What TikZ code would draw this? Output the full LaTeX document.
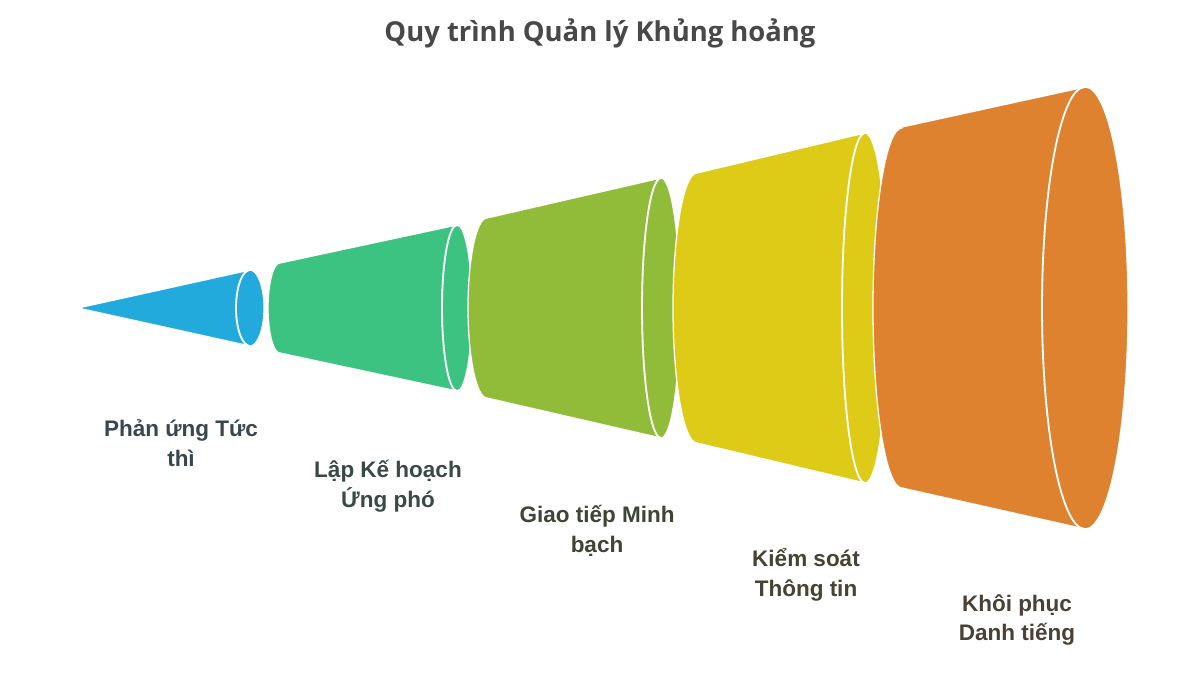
\documentclass[tikz,border=0pt]{standalone}
\usepackage{fontspec}
\usepackage{tikz}
\setmainfont{Liberation Sans}
\newfontfamily\titlefont{Open Sans}

\definecolor{cblue}{HTML}{22AADC}
\definecolor{cgreen}{HTML}{3DC381}
\definecolor{colive}{HTML}{91BC3A}
\definecolor{cyellow}{HTML}{DECB17}
\definecolor{corange}{HTML}{DE8230}
\definecolor{ttext}{HTML}{484848}
\definecolor{tblue}{HTML}{38474D}
\definecolor{tgreen}{HTML}{3A4946}
\definecolor{tolive}{HTML}{3F4536}
\definecolor{tyellow}{HTML}{454331}
\definecolor{torange}{HTML}{4A4037}

\tikzset{
  seg/.style={draw=white, line width=0.9pt, line join=round},
  rim/.style={draw=white, line width=1.3pt},
  lbl/.style={align=center, font=\bfseries\fontsize{16}{21.3}\selectfont}
}

\begin{document}
\begin{tikzpicture}[x=0.025cm, y=-0.025cm]
    \useasboundingbox (0, 0) rectangle (1200, 675);
    \node[font=\titlefont\bfseries\fontsize{19.5}{23}\selectfont, text=ttext] (title) at (600, 33) {Quy trình Quản lý Khủng hoảng};
    % cone
    \fill[seg, fill=cblue] (78, 308) -- (250, 270) arc[start angle=-90, end angle=90, x radius=14, y radius=38] -- cycle;
    \draw[rim] (250, 270) arc[start angle=-90, end angle=-270, x radius=14, y radius=38];
    % frustum 2
    \fill[seg, fill=cgreen] (280, 263) -- (457, 225) arc[start angle=-90, end angle=90, x radius=15, y radius=83]
      -- (280, 353) arc[start angle=90, end angle=270, x radius=12, y radius=45] -- cycle;
    \draw[rim] (457, 225) arc[start angle=-90, end angle=-270, x radius=15, y radius=83];
    % frustum 3
    \fill[seg, fill=colive] (487, 218) -- (661, 178) arc[start angle=-90, end angle=90, x radius=19, y radius=130]
      -- (487, 398) arc[start angle=90, end angle=270, x radius=19, y radius=90] -- cycle;
    \draw[rim] (661, 178) arc[start angle=-90, end angle=-270, x radius=19, y radius=130];
    % frustum 4
    \fill[seg, fill=cyellow] (697, 173) -- (865, 133) arc[start angle=-90, end angle=90, x radius=23, y radius=175]
      -- (697, 443) arc[start angle=90, end angle=270, x radius=24, y radius=135] -- cycle;
    \draw[rim] (865, 133) arc[start angle=-90, end angle=-270, x radius=23, y radius=175];
    % frustum 5
    \fill[seg, fill=corange] (902, 127) -- (1085, 87) arc[start angle=-90, end angle=90, x radius=43, y radius=221]
      -- (902, 488) arc[start angle=90, end angle=270, x radius=29, y radius=180] -- cycle;
    \draw[rim] (1085, 87) arc[start angle=-90, end angle=-270, x radius=43, y radius=221];
    % labels
    \node[lbl, text=tblue] (react) at (181, 443) {Phản ứng Tức\\thì};
    \node[lbl, text=tgreen] (plan) at (388, 486) {Lập Kế hoạch\\Ứng phó};
    \node[lbl, text=tolive] (comm) at (597, 531) {Giao tiếp Minh\\bạch};
    \node[lbl, text=tyellow] (ctrl) at (806, 575) {Kiểm soát\\Thông tin};
    \node[lbl, text=torange] (recover) at (1017, 620) {Khôi phục\\Danh tiếng};
\end{tikzpicture}
\end{document}
